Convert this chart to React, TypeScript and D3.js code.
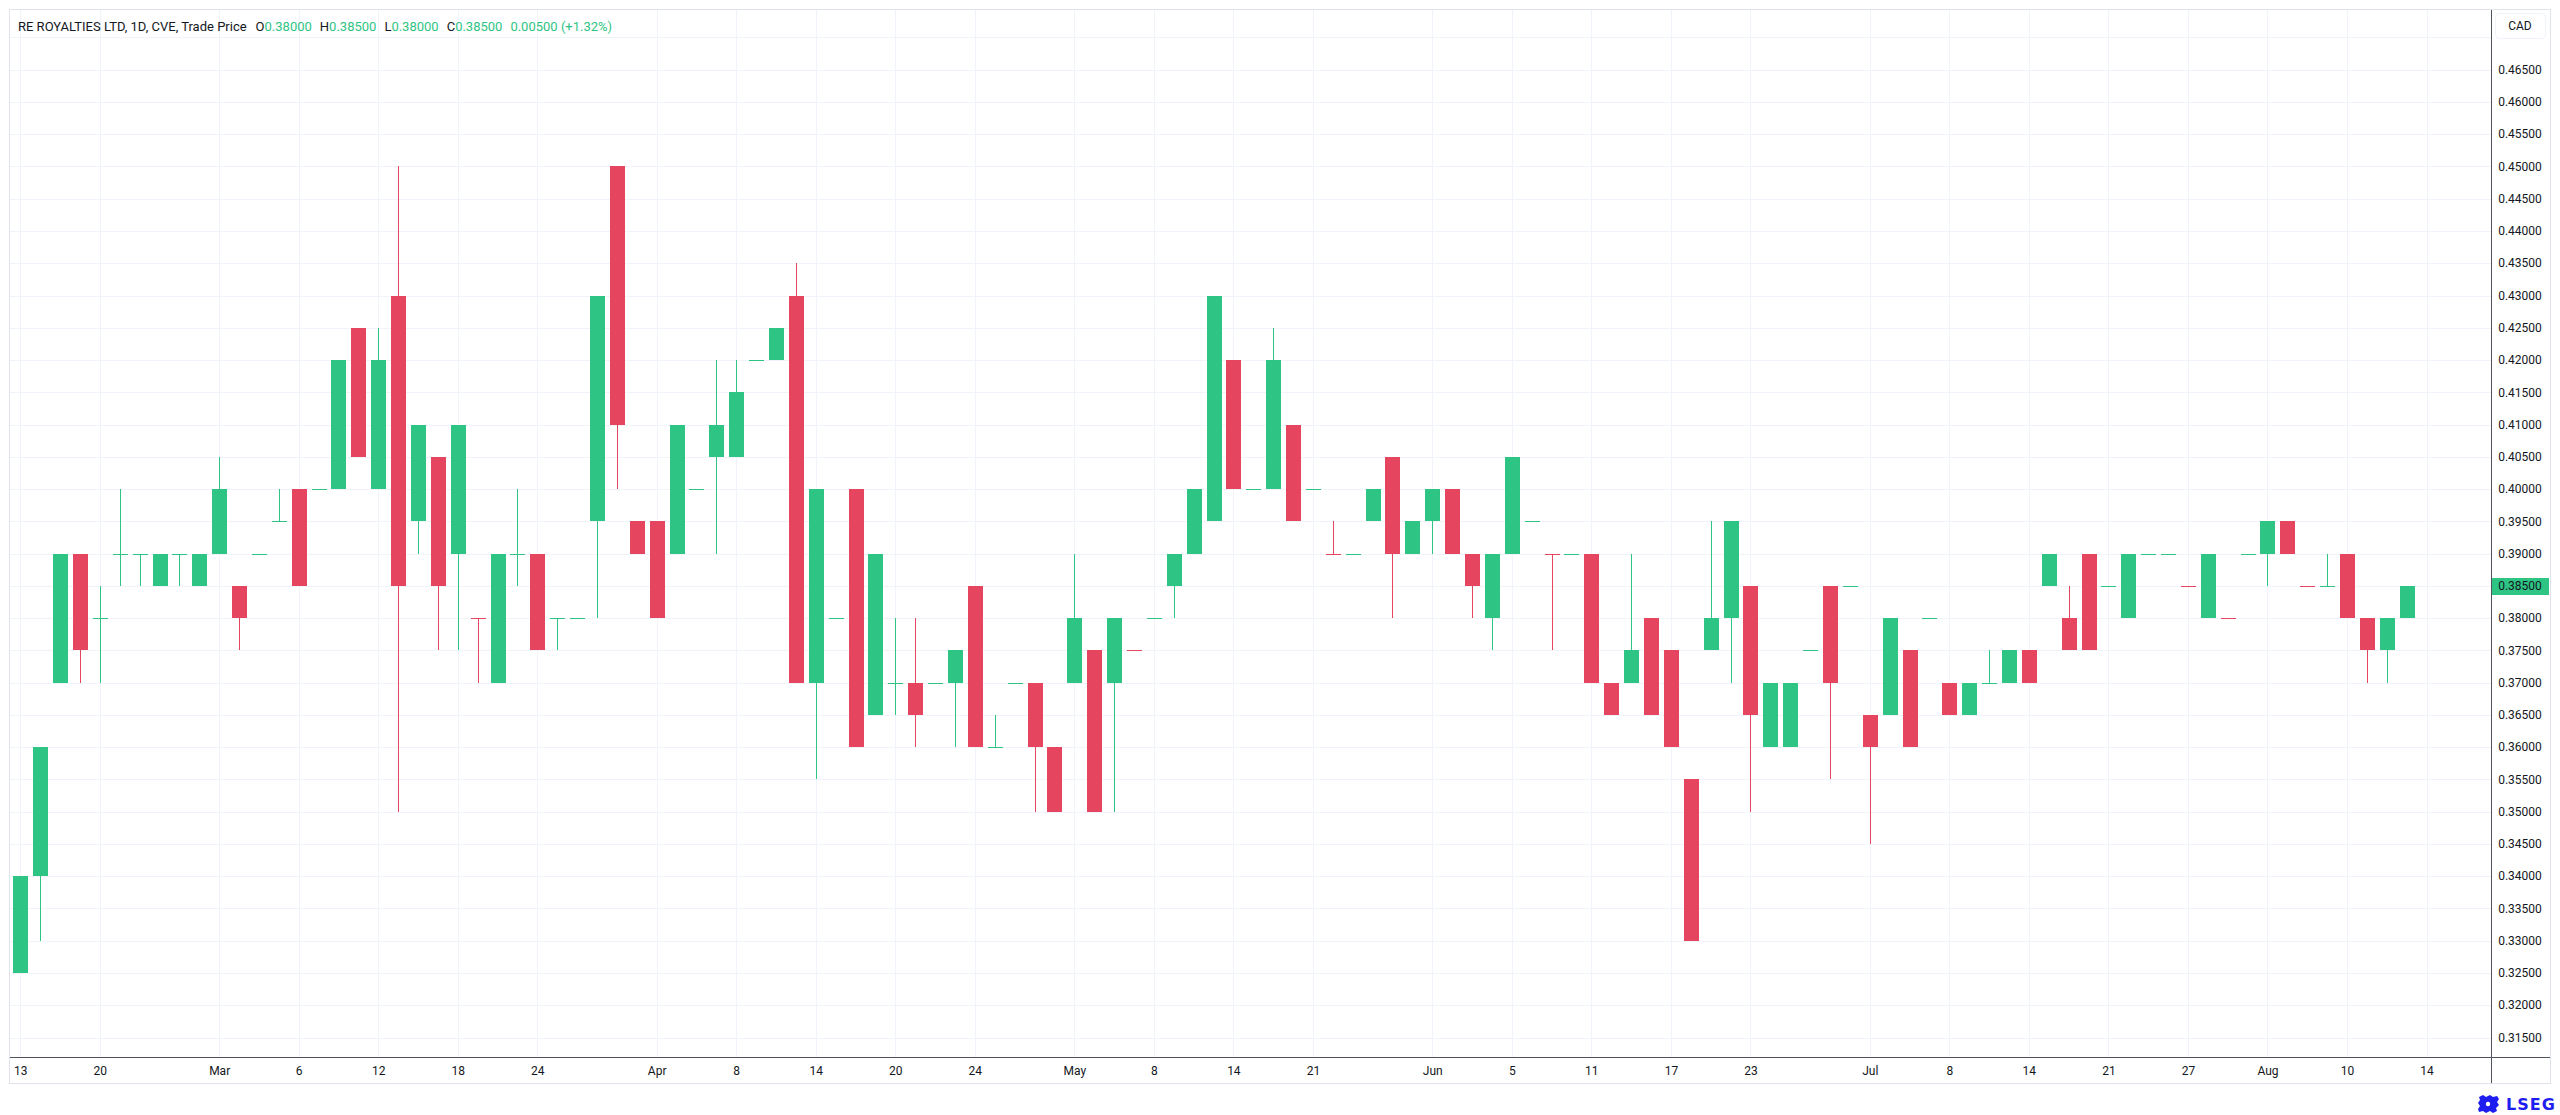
import * as d3 from "d3";

// daily bars: date, open, high, low, close
const candles: [string, number, number, number, number][] = [
  ["2026-02-13", 0.325, 0.34, 0.325, 0.34],
  ["2026-02-17", 0.34, 0.36, 0.33, 0.36],
  ["2026-02-18", 0.37, 0.39, 0.37, 0.39],
  ["2026-02-19", 0.39, 0.39, 0.37, 0.375],
  ["2026-02-20", 0.38, 0.385, 0.37, 0.38],
  ["2026-02-23", 0.39, 0.4, 0.385, 0.39],
  ["2026-02-24", 0.39, 0.39, 0.385, 0.39],
  ["2026-02-25", 0.385, 0.39, 0.385, 0.39],
  ["2026-02-26", 0.39, 0.39, 0.385, 0.39],
  ["2026-02-27", 0.385, 0.39, 0.385, 0.39],
  ["2026-03-02", 0.39, 0.405, 0.39, 0.4],
  ["2026-03-03", 0.385, 0.385, 0.375, 0.38],
  ["2026-03-04", 0.39, 0.39, 0.39, 0.39],
  ["2026-03-05", 0.395, 0.4, 0.395, 0.395],
  ["2026-03-06", 0.4, 0.4, 0.385, 0.385],
  ["2026-03-09", 0.4, 0.4, 0.4, 0.4],
  ["2026-03-10", 0.4, 0.42, 0.4, 0.42],
  ["2026-03-11", 0.425, 0.425, 0.405, 0.405],
  ["2026-03-12", 0.4, 0.425, 0.4, 0.42],
  ["2026-03-13", 0.43, 0.45, 0.35, 0.385],
  ["2026-03-16", 0.395, 0.41, 0.39, 0.41],
  ["2026-03-17", 0.405, 0.405, 0.375, 0.385],
  ["2026-03-18", 0.39, 0.41, 0.375, 0.41],
  ["2026-03-19", 0.38, 0.38, 0.37, 0.38],
  ["2026-03-20", 0.37, 0.39, 0.37, 0.39],
  ["2026-03-23", 0.39, 0.4, 0.385, 0.39],
  ["2026-03-24", 0.39, 0.39, 0.375, 0.375],
  ["2026-03-25", 0.38, 0.38, 0.375, 0.38],
  ["2026-03-26", 0.38, 0.38, 0.38, 0.38],
  ["2026-03-27", 0.395, 0.43, 0.38, 0.43],
  ["2026-03-30", 0.45, 0.45, 0.4, 0.41],
  ["2026-03-31", 0.395, 0.395, 0.39, 0.39],
  ["2026-04-01", 0.395, 0.395, 0.38, 0.38],
  ["2026-04-02", 0.39, 0.41, 0.39, 0.41],
  ["2026-04-06", 0.4, 0.4, 0.4, 0.4],
  ["2026-04-07", 0.405, 0.42, 0.39, 0.41],
  ["2026-04-08", 0.405, 0.42, 0.405, 0.415],
  ["2026-04-09", 0.42, 0.42, 0.42, 0.42],
  ["2026-04-10", 0.42, 0.425, 0.42, 0.425],
  ["2026-04-13", 0.43, 0.435, 0.37, 0.37],
  ["2026-04-14", 0.37, 0.4, 0.355, 0.4],
  ["2026-04-15", 0.38, 0.38, 0.38, 0.38],
  ["2026-04-16", 0.4, 0.4, 0.36, 0.36],
  ["2026-04-17", 0.365, 0.39, 0.365, 0.39],
  ["2026-04-20", 0.37, 0.38, 0.365, 0.37],
  ["2026-04-21", 0.37, 0.38, 0.36, 0.365],
  ["2026-04-22", 0.37, 0.37, 0.37, 0.37],
  ["2026-04-23", 0.37, 0.375, 0.36, 0.375],
  ["2026-04-24", 0.385, 0.385, 0.36, 0.36],
  ["2026-04-27", 0.36, 0.365, 0.36, 0.36],
  ["2026-04-28", 0.37, 0.37, 0.37, 0.37],
  ["2026-04-29", 0.37, 0.37, 0.35, 0.36],
  ["2026-04-30", 0.36, 0.36, 0.35, 0.35],
  ["2026-05-01", 0.37, 0.39, 0.37, 0.38],
  ["2026-05-04", 0.375, 0.375, 0.35, 0.35],
  ["2026-05-05", 0.37, 0.38, 0.35, 0.38],
  ["2026-05-06", 0.375, 0.375, 0.375, 0.375],
  ["2026-05-08", 0.38, 0.38, 0.38, 0.38],
  ["2026-05-11", 0.385, 0.39, 0.38, 0.39],
  ["2026-05-12", 0.39, 0.4, 0.39, 0.4],
  ["2026-05-13", 0.395, 0.43, 0.395, 0.43],
  ["2026-05-14", 0.42, 0.42, 0.4, 0.4],
  ["2026-05-15", 0.4, 0.4, 0.4, 0.4],
  ["2026-05-19", 0.4, 0.425, 0.4, 0.42],
  ["2026-05-20", 0.41, 0.41, 0.395, 0.395],
  ["2026-05-21", 0.4, 0.4, 0.4, 0.4],
  ["2026-05-22", 0.39, 0.395, 0.39, 0.39],
  ["2026-05-25", 0.39, 0.39, 0.39, 0.39],
  ["2026-05-26", 0.395, 0.4, 0.395, 0.4],
  ["2026-05-27", 0.405, 0.405, 0.38, 0.39],
  ["2026-05-28", 0.39, 0.395, 0.39, 0.395],
  ["2026-06-01", 0.395, 0.4, 0.39, 0.4],
  ["2026-06-02", 0.4, 0.4, 0.39, 0.39],
  ["2026-06-03", 0.39, 0.39, 0.38, 0.385],
  ["2026-06-04", 0.38, 0.39, 0.375, 0.39],
  ["2026-06-05", 0.39, 0.405, 0.39, 0.405],
  ["2026-06-08", 0.395, 0.395, 0.395, 0.395],
  ["2026-06-09", 0.39, 0.39, 0.375, 0.39],
  ["2026-06-10", 0.39, 0.39, 0.39, 0.39],
  ["2026-06-11", 0.39, 0.39, 0.37, 0.37],
  ["2026-06-12", 0.37, 0.37, 0.365, 0.365],
  ["2026-06-15", 0.37, 0.39, 0.37, 0.375],
  ["2026-06-16", 0.38, 0.38, 0.365, 0.365],
  ["2026-06-17", 0.375, 0.375, 0.36, 0.36],
  ["2026-06-18", 0.355, 0.355, 0.33, 0.33],
  ["2026-06-19", 0.375, 0.395, 0.375, 0.38],
  ["2026-06-22", 0.38, 0.395, 0.37, 0.395],
  ["2026-06-23", 0.385, 0.385, 0.35, 0.365],
  ["2026-06-24", 0.36, 0.37, 0.36, 0.37],
  ["2026-06-25", 0.36, 0.37, 0.36, 0.37],
  ["2026-06-26", 0.375, 0.375, 0.375, 0.375],
  ["2026-06-29", 0.385, 0.385, 0.355, 0.37],
  ["2026-06-30", 0.385, 0.385, 0.385, 0.385],
  ["2026-07-02", 0.365, 0.365, 0.345, 0.36],
  ["2026-07-03", 0.365, 0.38, 0.365, 0.38],
  ["2026-07-06", 0.375, 0.375, 0.36, 0.36],
  ["2026-07-07", 0.38, 0.38, 0.38, 0.38],
  ["2026-07-08", 0.37, 0.37, 0.365, 0.365],
  ["2026-07-09", 0.365, 0.37, 0.365, 0.37],
  ["2026-07-10", 0.37, 0.375, 0.37, 0.37],
  ["2026-07-13", 0.37, 0.375, 0.37, 0.375],
  ["2026-07-14", 0.375, 0.375, 0.37, 0.37],
  ["2026-07-15", 0.385, 0.39, 0.385, 0.39],
  ["2026-07-16", 0.38, 0.385, 0.375, 0.375],
  ["2026-07-17", 0.39, 0.39, 0.375, 0.375],
  ["2026-07-21", 0.385, 0.385, 0.385, 0.385],
  ["2026-07-22", 0.38, 0.39, 0.38, 0.39],
  ["2026-07-23", 0.39, 0.39, 0.39, 0.39],
  ["2026-07-24", 0.39, 0.39, 0.39, 0.39],
  ["2026-07-27", 0.385, 0.385, 0.385, 0.385],
  ["2026-07-28", 0.38, 0.39, 0.38, 0.39],
  ["2026-07-29", 0.38, 0.38, 0.38, 0.38],
  ["2026-07-30", 0.39, 0.39, 0.39, 0.39],
  ["2026-08-04", 0.39, 0.395, 0.385, 0.395],
  ["2026-08-05", 0.395, 0.395, 0.39, 0.39],
  ["2026-08-06", 0.385, 0.385, 0.385, 0.385],
  ["2026-08-07", 0.385, 0.39, 0.385, 0.385],
  ["2026-08-10", 0.39, 0.39, 0.38, 0.38],
  ["2026-08-11", 0.38, 0.38, 0.37, 0.375],
  ["2026-08-12", 0.375, 0.38, 0.37, 0.38],
  ["2026-08-13", 0.38, 0.385, 0.38, 0.385],
];

// open == close bars that are drawn in the down colour
const redDojis = [
  "2026-03-19", "2026-05-06", "2026-05-22", "2026-06-09",
  "2026-07-27", "2026-07-29", "2026-08-06",
];

const timeTicks: [string, string][] = [
  ["2026-02-13", "13"], ["2026-02-20", "20"], ["2026-03-02", "Mar"],
  ["2026-03-06", "6"], ["2026-03-12", "12"], ["2026-03-18", "18"],
  ["2026-03-24", "24"], ["2026-04-01", "Apr"], ["2026-04-08", "8"],
  ["2026-04-14", "14"], ["2026-04-20", "20"], ["2026-04-24", "24"],
  ["2026-05-01", "May"], ["2026-05-08", "8"], ["2026-05-14", "14"],
  ["2026-05-21", "21"], ["2026-06-01", "Jun"], ["2026-06-05", "5"],
  ["2026-06-11", "11"], ["2026-06-17", "17"], ["2026-06-23", "23"],
  ["2026-07-02", "Jul"], ["2026-07-08", "8"], ["2026-07-14", "14"],
  ["2026-07-21", "21"], ["2026-07-27", "27"], ["2026-08-04", "Aug"],
  ["2026-08-10", "10"], ["2026-08-14", "14"],
];

const headerTitle = "RE ROYALTIES LTD, 1D, CVE, Trade Price";
const headerFields: [string, string][] = [
  ["O", "0.38000"], ["H", "0.38500"], ["L", "0.38000"], ["C", "0.38500"],
  ["", "0.00500 (+1.32%)"],
];
const lastPrice = 0.385;

const W = 2560;
const H = 1115;
const UP = "#2ec483";
const DOWN = "#e5455f";
const GRID = "#f0f3fa";
const TEXT = "#131722";
const FONT = "Roboto, 'Noto Sans', sans-serif";

const paneLeft = 10;
const paneTop = 10;
const paneRight = 2491;
const axisBottom = 1057;
const frameBottom = 1083;
const frameRight = 2550;

function App() {
  const x = d3.scaleLinear().domain([0, candles.length - 1]).range([20.3, 2406.7]);
  const y = d3.scaleLinear().domain([0.315, 0.465]).range([1037.5, 69.7]);

  const indexOf = new Map(candles.map((d, i) => [d[0], i]));
  const tickIndex = (date: string) => indexOf.get(date) ?? candles.length;

  const gridLevels = d3.range(0, 32).map((k) => 0.315 + k * 0.005);
  const labelLevels = gridLevels.filter((v) => v <= 0.4651);

  const bodyW = 15;

  return (
    <div style={{ position: "absolute", left: 0, top: 0 }}>
      <svg width={W} height={H} style={{ display: "block", background: "#fff" }} fontFamily={FONT}>
        <rect x={0} y={0} width={W} height={H} fill="#fff" />

        {/* grid */}
        <g shapeRendering="crispEdges">
          {gridLevels.map((v) => (
            <line key={v} x1={paneLeft} x2={paneRight} y1={Math.round(y(v)) + 0.5} y2={Math.round(y(v)) + 0.5} stroke={GRID} />
          ))}
          {timeTicks.map(([d]) => {
            const cx = Math.round(x(tickIndex(d))) + 0.5;
            return <line key={d} x1={cx} x2={cx} y1={paneTop} y2={axisBottom} stroke={GRID} />;
          })}
        </g>

        {/* candles */}
        <g shapeRendering="crispEdges">
          {candles.map(([date, o, h, l, c]) => {
            const cx = Math.round(x(indexOf.get(date)!));
            const color = c > o ? UP : c < o ? DOWN : redDojis.includes(date) ? DOWN : UP;
            const top = Math.round(y(Math.max(o, c)));
            const bot = Math.round(y(Math.min(o, c)));
            const hy = Math.round(y(h));
            const ly = Math.round(y(l));
            return (
              <g key={date}>
                {ly > hy && <rect x={cx} y={hy} width={1} height={ly - hy} fill={color} />}
                <rect x={cx - 7} y={top} width={bodyW} height={Math.max(1, bot - top)} fill={color} />
              </g>
            );
          })}
        </g>

        {/* frame and axes */}
        <g shapeRendering="crispEdges">
          <rect x={paneLeft - 0.5} y={paneTop - 0.5} width={frameRight - paneLeft + 1} height={frameBottom - paneTop + 1} fill="none" stroke="#e0e3eb" />
          <line x1={paneRight + 0.5} x2={paneRight + 0.5} y1={paneTop} y2={frameBottom} stroke="#50535e" />
          <line x1={paneLeft} x2={frameRight} y1={axisBottom + 0.5} y2={axisBottom + 0.5} stroke="#50535e" />
        </g>

        {/* header */}
        <text x={18} y={31} fontSize={13} fill={TEXT}>
          {headerTitle}
          {headerFields.map(([k, v], i) => (
            <tspan key={i} dx={i === 0 ? 9 : 8}>
              {k && <tspan fill={TEXT}>{k}</tspan>}
              <tspan fill={UP}>{v}</tspan>
            </tspan>
          ))}
        </text>

        {/* price axis */}
        <rect x={2495.5} y={13.5} width={50} height={25} rx={4} fill="#fff" stroke="#f0f3fa" />
        <text x={2520} y={30} fontSize={12} fill={TEXT} textAnchor="middle">CAD</text>
        {labelLevels.map((v) => (
          <text key={v} x={2520} y={y(v)} dy="0.35em" fontSize={12} fill={TEXT} textAnchor="middle">
            {v.toFixed(5)}
          </text>
        ))}
        <rect x={paneRight + 1} y={Math.round(y(lastPrice)) - 8} width={frameRight - paneRight - 2} height={17} fill={UP} shapeRendering="crispEdges" />
        <text x={2520} y={y(lastPrice)} dy="0.35em" fontSize={12} fill={TEXT} textAnchor="middle">
          {lastPrice.toFixed(5)}
        </text>

        {/* time axis */}
        {timeTicks.map(([d, label]) => (
          <text key={d + label} x={x(tickIndex(d)) + 0.5} y={1071} dy="0.35em" fontSize={12} fill={TEXT} textAnchor="middle">
            {label}
          </text>
        ))}

        {/* LSEG mark */}
        <g fill="#1e1ef0">
          <path d="M2479 1097 l4 -2 l3 2 l4 -2 l3 2 l4 -1 l2 3 l-2 3 l2 3 l-3 3 l1 3 l-4 2 l-3 -2 l-4 2 l-3 -2 l-4 1 l-1 -3 l2 -3 l-2 -3 l2 -3 z" />
          <circle cx={2488} cy={1104} r={2.2} fill="#fff" />
          <text x={2506} y={1110} fontSize={16} fontWeight={700} letterSpacing={1} fontFamily="'DejaVu Sans', sans-serif">LSEG</text>
        </g>
      </svg>
    </div>
  );
}

export default App;
